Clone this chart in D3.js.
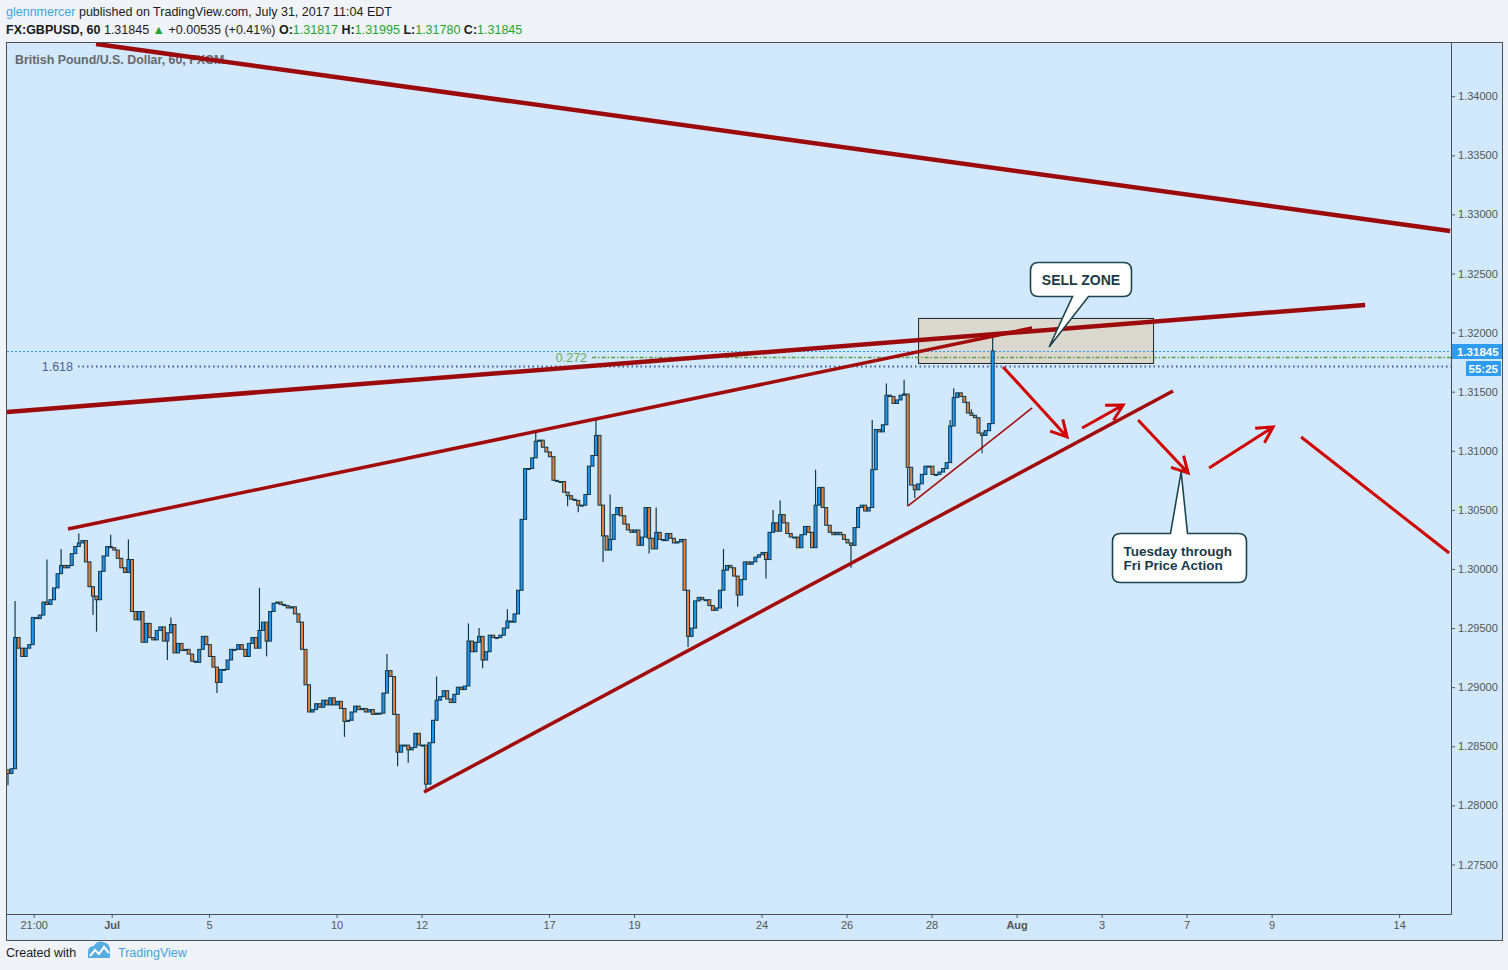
<!DOCTYPE html>
<html>
<head>
<meta charset="utf-8">
<title>GBPUSD 60</title>
<script src="https://cdn.jsdelivr.net/npm/d3@7"></script>
<style>
    body { margin: 0; background: #f0f3f7; font-family: "Liberation Sans", Arial, sans-serif; }
    #chart { width: 1508px; height: 970px; }
</style>
</head>
<body>
<div id="chart"></div>
<script>
// ---- data (time is in trading days counted from Jul 5 00:00, weekends removed) ----
var firstOpen = 1.2830;
var firstBarDay = -4.73;
var barStep = 1 / 12; // two-hour bars

var closes = [
    1.2827, 1.2831, 1.2942, 1.2933, 1.2926, 1.2933, 1.2936, 1.2959, 1.2958, 1.2961,
    1.2972, 1.2970, 1.2974, 1.2984, 1.2996, 1.3003, 1.3001, 1.3003, 1.3013, 1.3019,
    1.3022, 1.3024, 1.3006, 1.2985, 1.2977, 1.2974, 1.2998, 1.3011, 1.3019, 1.3018,
    1.3016, 1.3009, 1.3001, 1.2997, 1.3008, 1.2964, 1.2957, 1.2964, 1.2938, 1.2954,
    1.2942, 1.2940, 1.2948, 1.2951, 1.2939, 1.2946, 1.2953, 1.2929, 1.2937, 1.2931,
    1.2932, 1.2928, 1.2922, 1.2921, 1.2932, 1.2943, 1.2936, 1.2926, 1.2917, 1.2904,
    1.2915, 1.2915, 1.2923, 1.2932, 1.2932, 1.2936, 1.2932, 1.2926, 1.2937, 1.2942,
    1.2933, 1.2948, 1.2955, 1.2939, 1.2964, 1.2971, 1.2972, 1.2970, 1.2969, 1.2967,
    1.2968, 1.2962, 1.2955, 1.2932, 1.2902, 1.2879, 1.2881, 1.2886, 1.2883, 1.2889,
    1.2885, 1.2891, 1.2885, 1.2888, 1.2882, 1.2871, 1.2872, 1.2879, 1.2884, 1.2881,
    1.2882, 1.2879, 1.2881, 1.2877, 1.2878, 1.2878, 1.2895, 1.2914, 1.2909, 1.2877,
    1.2845, 1.2851, 1.2851, 1.2847, 1.2849, 1.2861, 1.2851, 1.2851, 1.2818, 1.2853,
    1.2872, 1.2889, 1.2892, 1.2897, 1.2890, 1.2887, 1.2894, 1.2900, 1.2898, 1.2901,
    1.2939, 1.2930, 1.2938, 1.2943, 1.2923, 1.2930, 1.2944, 1.2942, 1.2942, 1.2944,
    1.2950, 1.2956, 1.2955, 1.2962, 1.2982, 1.3042, 1.3085, 1.3085, 1.3094, 1.3108,
    1.3109, 1.3103, 1.3099, 1.3095, 1.3075, 1.3074, 1.3074, 1.3065, 1.3062, 1.3059,
    1.3058, 1.3054, 1.3054, 1.3063, 1.3087, 1.3096, 1.3113, 1.3054, 1.3028, 1.3016,
    1.3025, 1.3046, 1.3052, 1.3045, 1.3038, 1.3033, 1.3031, 1.3033, 1.3020, 1.3027,
    1.3052, 1.3026, 1.3017, 1.3031, 1.3025, 1.3024, 1.3030, 1.3026, 1.3022, 1.3023,
    1.3025, 1.2982, 1.2943, 1.2950, 1.2973, 1.2976, 1.2974, 1.2974, 1.2969, 1.2965,
    1.2967, 1.2982, 1.2999, 1.3003, 1.3001, 1.2994, 1.2978, 1.2991, 1.3006, 1.3004,
    1.3006, 1.3010, 1.3012, 1.3014, 1.3008, 1.3031, 1.3039, 1.3032, 1.3046, 1.3039,
    1.3030, 1.3027, 1.3027, 1.3018, 1.3029, 1.3036, 1.3031, 1.3018, 1.3054, 1.3069,
    1.3052, 1.3037, 1.3031, 1.3029, 1.3031, 1.3029, 1.3025, 1.3022, 1.3020, 1.3035,
    1.3052, 1.3054, 1.3049, 1.3052, 1.3084, 1.3118, 1.3116, 1.3122, 1.3147, 1.3146,
    1.3140, 1.3143, 1.3147, 1.3148, 1.3086, 1.3071, 1.3067, 1.3072, 1.3080, 1.3087,
    1.3087, 1.3080, 1.3080, 1.3082, 1.3085, 1.3090, 1.3121, 1.3145, 1.3149, 1.3146,
    1.3141, 1.3132, 1.3130, 1.3128, 1.3115, 1.3113, 1.3117, 1.3123, 1.31845
];

// [bar index, price] for the visible wicks
var wickHighs = [
    [2, 1.2973], [11, 1.3008], [15, 1.3017], [20, 1.3030], [29, 1.3029], [34, 1.3025],
    [46, 1.2959], [71, 1.2984], [107, 1.2928], [121, 1.2909], [130, 1.2954], [133, 1.2950],
    [141, 1.2966], [149, 1.3116], [166, 1.3127], [170, 1.3063], [183, 1.3052], [202, 1.3017],
    [216, 1.3050], [218, 1.3058], [228, 1.3084], [244, 1.3126], [248, 1.3157], [253, 1.3160],
    [266, 1.3126], [267, 1.3153], [272, 1.3135], [278, 1.31995]
];
var wickLows = [
    [0, 1.2817], [24, 1.2961], [25, 1.2947], [45, 1.2923], [59, 1.2895], [73, 1.2926],
    [95, 1.2858], [110, 1.2833], [113, 1.2836], [118, 1.2811], [134, 1.2916], [158, 1.3053],
    [161, 1.3048], [168, 1.3006], [181, 1.3013], [192, 1.2934], [206, 1.2968], [214, 1.2992],
    [238, 1.3001], [254, 1.3053], [256, 1.3060], [275, 1.3098]
];

var priceTicks = [1.275, 1.28, 1.285, 1.29, 1.295, 1.3, 1.305, 1.31, 1.315, 1.32, 1.325, 1.33, 1.335, 1.34];
var timeTickLabels = ["21:00", "Jul", "5", "10", "12", "17", "19", "24", "26", "28", "Aug", "3", "7", "9", "14"];
var timeTickDays = [-4.125, -2.29, 0, 3, 5, 8, 10, 13, 15, 17, 19, 21, 23, 25, 28];

var lastPrice = 1.31845;
var countdown = "55:25";

// drawings: [[day, price], [day, price]]
var channelLines = [
    [[-2.659, 1.34442], [29.2, 1.32860]],
    [[-4.753, 1.31328], [27.2, 1.32234]]
];
var wedgeLines = [
    [[-3.318, 1.30338], [19.365, 1.32039]],
    [[5.059, 1.28113], [22.68, 1.31506]]
];
var minorLines = [
    [[16.447, 1.30533], [19.365, 1.31362]]
];
var sellZone = [[16.682, 1.32124], [22.21, 1.31743]];

var fibLabels = ["1.618", "0.272"];
var fibPrices = [1.31717, 1.31794];
var fibStartDays = [-3.082, 9.012];

var forecastArrows = [
    [[18.682, 1.31709], [20.188, 1.31117]],
    [[20.541, 1.31193], [21.506, 1.31387]],
    [[21.859, 1.31261], [23.035, 1.30812]],
    [[23.529, 1.30854], [25.035, 1.31201]]
];
var forecastLines = [
    [[25.694, 1.31117], [29.176, 1.30135]]
];

var calloutTexts = [["SELL ZONE"], ["Tuesday through", "Fri Price Action"]];
var calloutBoxes = [[19.318, 1.32597], [21.247, 1.30305]];
var calloutTips = [[19.765, 1.31878], [22.871, 1.30821]];

var draw_chart = {
    width: 1508,
    height: 970,
    plot: 0,
    svg: 0,

    initialize: function() {
        var self = this;
        self.plot = { left: 7, right: 1451, top: 43, bottom: 914, axisRight: 1502, axisBottom: 940 };
        self.svg = d3.select("#chart").append("svg")
            .attr("width", self.width)
            .attr("height", self.height);
        self.draw();
    },

    draw: function() {
        var self = this;
        var p = self.plot;
        var svg = self.svg;

        var x = d3.scaleLinear().domain([-4.753, 29.22]).range([p.left, p.right]);
        var y = d3.scaleLinear().domain([1.27081, 1.34450]).range([p.bottom, p.top]);

        // panel backgrounds and frame
        svg.append("rect")
            .attr("x", p.left - 0.5).attr("y", p.top - 0.5)
            .attr("width", p.axisRight - p.left + 1).attr("height", p.axisBottom - p.top + 1)
            .attr("fill", "#d1e8fd")
            .attr("stroke", "#4a5056")
            .attr("stroke-width", 1);

        svg.append("defs").append("clipPath")
            .attr("id", "clip")
            .append("rect")
            .attr("x", p.left).attr("y", p.top)
            .attr("width", p.right - p.left).attr("height", p.bottom - p.top);

        // axes
        var yAxis = d3.axisRight(y)
            .tickValues(priceTicks)
            .tickFormat(d3.format(".5f"))
            .tickSize(4);
        var gy = svg.append("g")
            .attr("class", "axis y-axis")
            .attr("transform", "translate(" + p.right + ",0)")
            .call(yAxis);
        gy.select(".domain").remove();
        gy.selectAll("line").attr("stroke", "#555");
        gy.selectAll("text")
            .attr("x", 7)
            .attr("fill", "#555")
            .style("font-family", "Liberation Sans, Arial, sans-serif")
            .style("font-size", "11px");

        var xAxis = d3.axisBottom(x)
            .tickValues(timeTickDays)
            .tickFormat(function(d, i) { return timeTickLabels[i]; })
            .tickSize(4);
        var gx = svg.append("g")
            .attr("class", "axis x-axis")
            .attr("transform", "translate(0," + p.bottom + ")")
            .call(xAxis);
        gx.select(".domain").remove();
        gx.selectAll("line").attr("stroke", "#555");
        gx.selectAll("text")
            .attr("y", 7)
            .attr("fill", "#555")
            .style("font-family", "Liberation Sans, Arial, sans-serif")
            .style("font-size", "11px")
            .style("font-weight", function(d, i) { return isNaN(+timeTickLabels[i]) && timeTickLabels[i].indexOf(":") < 0 ? "bold" : "normal"; });

        // inner frame lines
        svg.append("line")
            .attr("x1", p.right + 0.5).attr("x2", p.right + 0.5)
            .attr("y1", p.top).attr("y2", p.bottom + 0.5)
            .attr("stroke", "#4a5056");
        svg.append("line")
            .attr("x1", p.left).attr("x2", p.right + 0.5)
            .attr("y1", p.bottom + 0.5).attr("y2", p.bottom + 0.5)
            .attr("stroke", "#4a5056");

        // legend in plot
        svg.append("text")
            .attr("x", 15).attr("y", 64)
            .attr("fill", "#66696d")
            .style("font-size", "12.4px")
            .style("font-weight", "bold")
            .text("British Pound/U.S. Dollar, 60, FXCM");

        var plotG = svg.append("g").attr("clip-path", "url(#clip)");

        // sell zone box
        plotG.append("rect")
            .attr("x", x(sellZone[0][0]) + 0.5)
            .attr("y", y(sellZone[0][1]) + 0.5)
            .attr("width", x(sellZone[1][0]) - x(sellZone[0][0]))
            .attr("height", y(sellZone[1][1]) - y(sellZone[0][1]))
            .attr("fill", "#dbd8d0")
            .attr("stroke", "#222")
            .attr("stroke-width", 1);

        // last price line
        plotG.append("line")
            .attr("x1", p.left).attr("x2", p.right)
            .attr("y1", Math.round(y(lastPrice)) + 0.5).attr("y2", Math.round(y(lastPrice)) + 0.5)
            .attr("stroke", "#2a9af0")
            .attr("stroke-dasharray", "2,2");

        // fib levels
        fibLabels.forEach(function(label, i) {
            var yy = Math.round(y(fibPrices[i])) + 0.5;
            var isGreen = i === 1;
            plotG.append("line")
                .attr("x1", x(fibStartDays[i])).attr("x2", p.right)
                .attr("y1", yy).attr("y2", yy)
                .attr("stroke", isGreen ? "#5a9e3c" : "#3c5c9c")
                .attr("stroke-width", isGreen ? 1.5 : 2)
                .attr("stroke-dasharray", isGreen ? "4,2,1.5,2" : "1.5,3");
            plotG.append("text")
                .attr("x", x(fibStartDays[i]) - 5)
                .attr("y", yy + 4.5)
                .attr("text-anchor", "end")
                .attr("fill", isGreen ? "#6da858" : "#4a6394")
                .style("font-size", "12.5px")
                .text(label);
        });

        // candles
        var bars = closes.map(function(c, i) {
            var o = i === 0 ? firstOpen : closes[i - 1];
            return { t: firstBarDay + i * barStep, o: o, c: c, h: Math.max(o, c), l: Math.min(o, c) };
        });
        wickHighs.forEach(function(w) { bars[w[0]].h = Math.max(bars[w[0]].h, w[1]); });
        wickLows.forEach(function(w) { bars[w[0]].l = Math.min(bars[w[0]].l, w[1]); });

        var candle = plotG.append("g").selectAll("g")
            .data(bars)
            .enter().append("g");
        candle.append("line")
            .attr("x1", function(d) { return x(d.t); })
            .attr("x2", function(d) { return x(d.t); })
            .attr("y1", function(d) { return y(d.h); })
            .attr("y2", function(d) { return y(d.l); })
            .attr("stroke", "#0e3a4b")
            .attr("stroke-width", 1.2);
        candle.append("rect")
            .attr("x", function(d) { return x(d.t) - 1.5; })
            .attr("y", function(d) { return y(Math.max(d.o, d.c)); })
            .attr("width", 3)
            .attr("height", function(d) { return Math.max(1, Math.abs(y(d.o) - y(d.c))); })
            .attr("fill", function(d) { return d.c >= d.o ? "#2196f3" : "#ef7f3a"; })
            .attr("stroke", "#0e3a4b")
            .attr("stroke-width", 1);

        // trend lines
        function drawLines(list, color, w) {
            plotG.append("g").selectAll("line")
                .data(list)
                .enter().append("line")
                .attr("x1", function(d) { return x(d[0][0]); })
                .attr("y1", function(d) { return y(d[0][1]); })
                .attr("x2", function(d) { return x(d[1][0]); })
                .attr("y2", function(d) { return y(d[1][1]); })
                .attr("stroke", color)
                .attr("stroke-width", w)
                .attr("stroke-linecap", "butt");
        }
        drawLines(channelLines, "#9c0a0c", 4.5);
        drawLines(wedgeLines, "#a30b0b", 3.5);
        drawLines(minorLines, "#a30b0b", 1.6);
        drawLines(forecastLines, "#d00000", 3);

        // forecast arrows
        forecastArrows.forEach(function(a) {
            var x1 = x(a[0][0]), y1 = y(a[0][1]), x2 = x(a[1][0]), y2 = y(a[1][1]);
            var ang = Math.atan2(y2 - y1, x2 - x1);
            var len = 18, spread = 0.5;
            var path = d3.path();
            path.moveTo(x1, y1);
            path.lineTo(x2, y2);
            path.moveTo(x2 - len * Math.cos(ang - spread), y2 - len * Math.sin(ang - spread));
            path.lineTo(x2, y2);
            path.lineTo(x2 - len * Math.cos(ang + spread), y2 - len * Math.sin(ang + spread));
            plotG.append("path")
                .attr("d", path.toString())
                .attr("fill", "none")
                .attr("stroke", "#d00000")
                .attr("stroke-width", 3)
                .attr("stroke-linejoin", "miter");
        });

        // callouts
        var boxSizes = [[101, 34], [134, 49]];
        var pointerBase = [[42, 58, "bottom"], [58, 75, "top"]];
        calloutTexts.forEach(function(lines, i) {
            var bx = Math.round(x(calloutBoxes[i][0])) + 0.5, by = Math.round(y(calloutBoxes[i][1])) + 0.5;
            var w = boxSizes[i][0], h = boxSizes[i][1], r = 8;
            var tx = x(calloutTips[i][0]), ty = y(calloutTips[i][1]);
            var b1 = bx + pointerBase[i][0], b2 = bx + pointerBase[i][1];
            var d;
            if (pointerBase[i][2] === "bottom") {
                d = "M" + (bx + r) + "," + by + "H" + (bx + w - r) +
                    "Q" + (bx + w) + "," + by + " " + (bx + w) + "," + (by + r) +
                    "V" + (by + h - r) +
                    "Q" + (bx + w) + "," + (by + h) + " " + (bx + w - r) + "," + (by + h) +
                    "H" + b2 + "L" + tx + "," + ty + "L" + b1 + "," + (by + h) +
                    "H" + (bx + r) +
                    "Q" + bx + "," + (by + h) + " " + bx + "," + (by + h - r) +
                    "V" + (by + r) +
                    "Q" + bx + "," + by + " " + (bx + r) + "," + by + "Z";
            } else {
                d = "M" + (bx + r) + "," + by + "H" + b1 + "L" + tx + "," + ty + "L" + b2 + "," + by +
                    "H" + (bx + w - r) +
                    "Q" + (bx + w) + "," + by + " " + (bx + w) + "," + (by + r) +
                    "V" + (by + h - r) +
                    "Q" + (bx + w) + "," + (by + h) + " " + (bx + w - r) + "," + (by + h) +
                    "H" + (bx + r) +
                    "Q" + bx + "," + (by + h) + " " + bx + "," + (by + h - r) +
                    "V" + (by + r) +
                    "Q" + bx + "," + by + " " + (bx + r) + "," + by + "Z";
            }
            plotG.append("path")
                .attr("d", d)
                .attr("fill", "#ffffff")
                .attr("stroke", "#1d4550")
                .attr("stroke-width", 1.6);
            if (lines.length === 1) {
                plotG.append("text")
                    .attr("x", bx + w / 2).attr("y", by + h / 2 + 5)
                    .attr("text-anchor", "middle")
                    .attr("fill", "#1b3a46")
                    .style("font-size", "14px")
                    .style("font-weight", "bold")
                    .text(lines[0]);
            } else {
                lines.forEach(function(t, j) {
                    plotG.append("text")
                        .attr("x", bx + 11).attr("y", by + 22 + j * 14)
                        .attr("fill", "#1b3a46")
                        .style("font-size", "13.5px")
                        .style("font-weight", "bold")
                        .text(t);
                });
            }
        });

        // price axis labels for last price and countdown
        var ly = Math.round(y(lastPrice));
        svg.append("rect")
            .attr("x", p.right + 1).attr("y", ly - 7)
            .attr("width", p.axisRight - p.right - 1).attr("height", 15)
            .attr("fill", "#2e9cf0");
        svg.append("text")
            .attr("x", p.right + 6).attr("y", ly + 4.5)
            .attr("fill", "#fff")
            .style("font-size", "11.5px")
            .style("font-weight", "bold")
            .text(d3.format(".5f")(lastPrice));
        svg.append("rect")
            .attr("x", p.right + 15).attr("y", ly + 10)
            .attr("width", p.axisRight - p.right - 16).attr("height", 15)
            .attr("fill", "#2e9cf0");
        svg.append("text")
            .attr("x", p.axisRight - 4).attr("y", ly + 21.5)
            .attr("text-anchor", "end")
            .attr("fill", "#fff")
            .style("font-size", "11.5px")
            .style("font-weight", "bold")
            .text(countdown);

        // header
        var h1 = svg.append("text")
            .attr("x", 6).attr("y", 15.5)
            .style("font-size", "12.5px")
            .attr("fill", "#1a1a1a");
        h1.append("tspan").attr("fill", "#3aa6de").text("glennmercer");
        h1.append("tspan").text(" published on TradingView.com, July 31, 2017 11:04 EDT");

        var green = "#1fa52e";
        var h2 = svg.append("text")
            .attr("x", 6).attr("y", 33.5)
            .style("font-size", "12.5px")
            .attr("fill", "#1a1a1a");
        h2.append("tspan").style("font-weight", "bold").text("FX:GBPUSD, 60");
        h2.append("tspan").text("  1.31845 ");
        h2.append("tspan").attr("fill", green).text("\u25B2");
        h2.append("tspan").text(" +0.00535 (+0.41%) ");
        [["O:", "1.31817"], ["H:", "1.31995"], ["L:", "1.31780"], ["C:", "1.31845"]].forEach(function(v, i) {
            h2.append("tspan").style("font-weight", "bold").text((i ? " " : "") + v[0]);
            h2.append("tspan").attr("fill", green).text(v[1]);
        });

        // footer
        svg.append("text")
            .attr("x", 6).attr("y", 957)
            .attr("fill", "#1a1a1a")
            .style("font-size", "12.5px")
            .text("Created with");
        svg.append("path")
            .attr("d", "M88,958 L88,952 Q88,946 94,946 Q97,940 103,942 Q110,943 110,950 L110,958 Z")
            .attr("fill", "#55ade0");
        svg.append("polyline")
            .attr("points", "90,956 95,950 99,954 104,947 109,953")
            .attr("fill", "none")
            .attr("stroke", "#fff")
            .attr("stroke-width", 2);
        svg.append("text")
            .attr("x", 118).attr("y", 957)
            .attr("fill", "#3aa6de")
            .style("font-size", "12.5px")
            .text("TradingView");
    }
};

draw_chart.initialize();
</script>
</body>
</html>
